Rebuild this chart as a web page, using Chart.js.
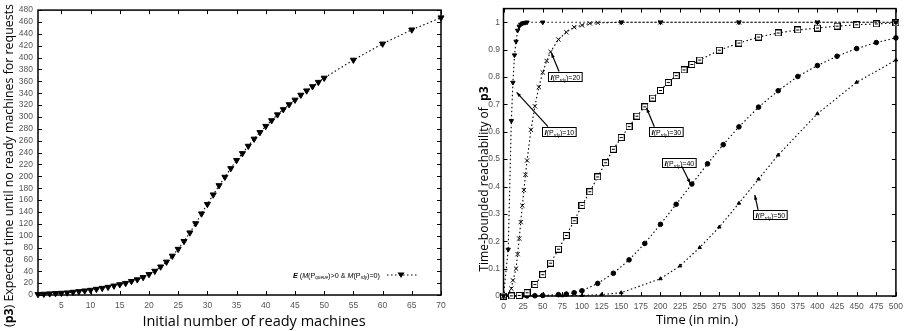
<!DOCTYPE html>
<html>
<head>
<meta charset="utf-8">
<script src="https://cdn.jsdelivr.net/npm/chart.js@4.4.0/dist/chart.umd.min.js"></script>
<style>
html, body { margin: 0; padding: 0; background: #fff; }
#wrap { position: relative; width: 909px; height: 331px; overflow: hidden; }
#leftChart { position: absolute; left: 0; top: 0; }
#rightChart { position: absolute; left: 455px; top: 0; }
</style>
</head>
<body>
<div id="wrap">
<canvas id="leftChart" width="455" height="331"></canvas>
<canvas id="rightChart" width="454" height="331"></canvas>
</div>
<script>
// left plot: expected time until no ready machines
var machines = [1,2,3,4,5,6,7,8,9,10,11,12,13,14,15,16,17,18,19,20,21,22,23,24,25,26,27,28,29,30,
  31,32,33,34,35,36,37,38,39,40,41,42,43,44,45,46,47,48,49,50,55,60,65,70];
var expectedTime = [1.2,1.7,2.3,2.8,3.3,3.9,5.0,6.1,7.2,8.3,10,11.6,13.3,15.5,17.7,19.9,23.2,26,29.8,34.8,
  40.4,47.6,55.8,65.8,77.4,90.6,105,120.5,137,153,169,184.6,198.8,213.3,227,238.6,251,263,274,284.5,
  294,303.9,312.7,321,328.7,337,344.2,351.3,358.6,365.7,396,423.2,446.9,467.3];
var leftXTicks = [5,10,15,20,25,30,35,40,45,50,55,60,65,70];
var leftYTicks = [0,20,40,60,80,100,120,140,160,180,200,220,240,260,280,300,320,340,360,380,400,420,440,460,480];

// right plot: time-bounded reachability of p3
var t10 = [0,6,10,12,14,16,18,20,22,24,26,28,30,50,150,200,300,400,500];
var p10 = [0,0.17,0.64,0.78,0.88,0.93,0.97,0.985,0.992,0.996,0.998,0.999,1,1,1,1,1,1,1];
var t20 = [0,5,10,12,16,18,20,22,24,26,28,30,35,40,45,50,55,60,70,80,90,100,110,120,150,200,300,400,500];
var p20 = [0,0.002,0.027,0.057,0.1,0.153,0.21,0.27,0.33,0.387,0.443,0.495,0.607,0.693,0.763,0.817,0.859,0.892,
  0.937,0.964,0.982,0.989,0.996,0.998,1,1,1,1,1];
var t30 = [0,10,20,30,40,50,60,70,80,90,100,110,120,130,140,150,160,170,180,190,200,210,220,230,240,250,
  275,300,325,350,375,400,425,450,475,500];
var p30 = [0,0.0005,0.002,0.012,0.042,0.078,0.12,0.171,0.221,0.275,0.331,0.381,0.435,0.487,0.536,0.579,0.619,
  0.657,0.691,0.723,0.751,0.78,0.805,0.826,0.846,0.862,0.898,0.924,0.946,0.961,0.972,0.979,0.986,0.991,0.994,0.998];
var t40 = [0,10,20,30,40,50,70,80,90,100,120,140,160,180,200,220,240,260,280,300,325,350,375,400,425,450,475,500];
var p40 = [0,0,0,0.0005,0.001,0.002,0.005,0.007,0.012,0.019,0.046,0.083,0.132,0.192,0.262,0.335,0.409,0.483,
  0.553,0.618,0.69,0.75,0.802,0.842,0.876,0.904,0.926,0.943];
var t50 = [0,25,50,75,100,125,150,200,225,250,275,300,325,350,400,450,500];
var p50 = [0,0,0.0005,0.001,0.002,0.005,0.012,0.063,0.11,0.177,0.252,0.339,0.427,0.515,0.666,0.781,0.862];
var rightXTicks = [0,25,50,75,100,125,150,175,200,225,250,275,300,325,350,375,400,425,450,475,500];
var rightYTicks = [0,0.1,0.2,0.3,0.4,0.5,0.6,0.7,0.8,0.9,1];

// label boxes: box top-left, arrow start, arrow tip (data units)
var labelNames = ['10','20','30','40','50'];
var labelBox = [[49.6,0.618],[56.7,0.82],[185.3,0.618],[202,0.505],[318,0.315]];
var labelFrom = [[56.7,0.619],[70.8,0.82],[192.2,0.618],[227,0.475],[324.4,0.315]];
var labelTip = [[16.7,0.744],[61,0.888],[182.3,0.687],[238,0.411],[320.2,0.369]];

function pairs(xs, ys) {
  return xs.map(function (x, i) { return {x: x, y: ys[i]}; });
}

function fontOf(p) {
  return (p.s || '') + ' ' + p.z + 'px ' + (p.f || '"Liberation Sans", Arial, sans-serif');
}

function richWidth(ctx, parts) {
  var w = 0;
  parts.forEach(function (p) { ctx.font = fontOf(p); w += ctx.measureText(p.t).width; });
  return w;
}

function drawRich(ctx, parts, x, y) {
  ctx.textBaseline = 'alphabetic';
  ctx.textAlign = 'left';
  parts.forEach(function (p) {
    ctx.font = fontOf(p);
    ctx.fillText(p.t, x, y + (p.d || 0));
    x += ctx.measureText(p.t).width;
  });
}

function boxMarker() {
  var c = document.createElement('canvas');
  c.width = 7; c.height = 7;
  var g = c.getContext('2d');
  g.fillStyle = '#fff';
  g.fillRect(0, 0, 7, 7);
  g.strokeStyle = '#000';
  g.lineWidth = 1;
  g.strokeRect(0.5, 0.5, 6, 6);
  g.fillStyle = '#000';
  g.fillRect(2, 3, 3, 1);
  return c;
}

// border and inward ticks on all four sides, gnuplot style
var framePlugin = {
  id: 'frame',
  beforeDatasetsDraw: function (chart) {
    var ctx = chart.ctx, a = chart.chartArea;
    var xs = chart.scales.x, ys = chart.scales.y;
    ctx.save();
    ctx.strokeStyle = '#000';
    ctx.lineWidth = 1;
    ctx.beginPath();
    xs.ticks.forEach(function (t) {
      var px = Math.round(xs.getPixelForValue(t.value)) + 0.5;
      ctx.moveTo(px, a.bottom); ctx.lineTo(px, a.bottom - 4);
      ctx.moveTo(px, a.top); ctx.lineTo(px, a.top + 4);
    });
    ys.ticks.forEach(function (t) {
      var py = Math.round(ys.getPixelForValue(t.value)) + 0.5;
      ctx.moveTo(a.left, py); ctx.lineTo(a.left + 4, py);
      ctx.moveTo(a.right, py); ctx.lineTo(a.right - 4, py);
    });
    ctx.stroke();
    ctx.lineWidth = 1.5;
    ctx.strokeRect(a.left, a.top, a.right - a.left, a.bottom - a.top);
    ctx.restore();
  }
};

var tickFont = {family: '"Liberation Sans", Arial, sans-serif', size: 8.5};
var titleFont = '"Open Sans", "Noto Sans", sans-serif';

function axisX(min, max, list, h) {
  return {
    type: 'linear', min: min, max: max,
    grid: {display: false, drawTicks: false}, border: {display: false},
    ticks: {color: '#555', font: tickFont, padding: 6, autoSkip: false, maxRotation: 0},
    afterBuildTicks: function (s) { s.ticks = list.map(function (v) { return {value: v}; }); },
    afterFit: function (s) { s.height = h; }
  };
}

function axisY(min, max, list, w, pad) {
  return {
    min: min, max: max,
    grid: {display: false, drawTicks: false}, border: {display: false},
    ticks: {color: '#555', font: tickFont, padding: pad, autoSkip: false,
      callback: function (v) { return String(+v.toFixed(1)); }},
    afterBuildTicks: function (s) { s.ticks = list.map(function (v) { return {value: v}; }); },
    afterFit: function (s) { s.width = w; }
  };
}

var leftExtras = {
  id: 'leftExtras',
  afterDraw: function (chart) {
    var ctx = chart.ctx;
    ctx.save();
    ctx.fillStyle = '#000';
    // y title
    ctx.save();
    ctx.translate(13, 327);
    ctx.rotate(-Math.PI / 2);
    drawRich(ctx, [
      {t: '(', z: 12.4, f: titleFont},
      {t: 'p3', s: 'bold', z: 12.4, f: titleFont},
      {t: ') Expected time until no ready machines for requests', z: 12.4, f: titleFont}
    ], 0, 0);
    ctx.restore();
    // x title
    var xt = [{t: 'Initial number of ready machines', z: 14.5, f: titleFont}];
    drawRich(ctx, xt, 254 - richWidth(ctx, xt) / 2, 326);
    // legend
    var leg = [
      {t: 'E', s: 'bold italic', z: 7.3},
      {t: ' (', z: 7.2},
      {t: 'M', s: 'italic', z: 7.2},
      {t: '(P', z: 7.2},
      {t: 'queue', s: 'italic', z: 4.6, d: 1.3},
      {t: ')>0 & ', z: 7.2},
      {t: 'M', s: 'italic', z: 7.2},
      {t: '(P', z: 7.2},
      {t: 'rdy', s: 'italic', z: 4.6, d: 1.3},
      {t: ')=0)', z: 7.2}
    ];
    drawRich(ctx, leg, 380 - richWidth(ctx, leg), 278);
    ctx.strokeStyle = '#000';
    ctx.lineWidth = 1.2;
    ctx.setLineDash([1.5, 2.5]);
    ctx.beginPath();
    ctx.moveTo(387, 275);
    ctx.lineTo(417, 275);
    ctx.stroke();
    ctx.setLineDash([]);
    ctx.beginPath();
    ctx.moveTo(397.5, 272.5);
    ctx.lineTo(404.5, 272.5);
    ctx.lineTo(401, 278);
    ctx.closePath();
    ctx.fill();
    ctx.restore();
  }
};

var rightExtras = {
  id: 'rightExtras',
  afterDraw: function (chart) {
    var ctx = chart.ctx, xs = chart.scales.x, ys = chart.scales.y;
    ctx.save();
    ctx.fillStyle = '#000';
    ctx.save();
    ctx.translate(33, 179);
    ctx.rotate(-Math.PI / 2);
    var yt = [
      {t: 'Time-bounded reachability of  ', z: 12, f: titleFont},
      {t: 'p3', s: 'bold', z: 12, f: titleFont}
    ];
    drawRich(ctx, yt, -richWidth(ctx, yt) / 2, 0);
    ctx.restore();
    var xt = [{t: 'Time (in min.)', z: 13, f: titleFont}];
    drawRich(ctx, xt, 242 - richWidth(ctx, xt) / 2, 324);

    labelNames.forEach(function (n, i) {
      var parts = [
        {t: 'I', s: 'bold italic', z: 8},
        {t: '(P', z: 7},
        {t: 'rdy', z: 4.5, d: 1.5},
        {t: ')=' + n, z: 7}
      ];
      var bx = Math.round(xs.getPixelForValue(labelBox[i][0])) + 0.5;
      var by = Math.round(ys.getPixelForValue(labelBox[i][1])) + 0.5;
      var w = richWidth(ctx, parts) + 4;
      ctx.fillStyle = '#fff';
      ctx.fillRect(bx, by, w, 9);
      ctx.strokeStyle = '#000';
      ctx.lineWidth = 1;
      ctx.strokeRect(bx, by, w, 9);
      ctx.fillStyle = '#000';
      drawRich(ctx, parts, bx + 2, by + 7.5);
      // arrow
      var x0 = xs.getPixelForValue(labelFrom[i][0]), y0 = ys.getPixelForValue(labelFrom[i][1]);
      var x1 = xs.getPixelForValue(labelTip[i][0]), y1 = ys.getPixelForValue(labelTip[i][1]);
      var ang = Math.atan2(y1 - y0, x1 - x0);
      ctx.lineWidth = 1.2;
      ctx.beginPath();
      ctx.moveTo(x0, y0);
      ctx.lineTo(x1, y1);
      ctx.stroke();
      ctx.beginPath();
      ctx.moveTo(x1, y1);
      ctx.lineTo(x1 - 5 * Math.cos(ang - 0.35), y1 - 5 * Math.sin(ang - 0.35));
      ctx.lineTo(x1 - 5 * Math.cos(ang + 0.35), y1 - 5 * Math.sin(ang + 0.35));
      ctx.closePath();
      ctx.fill();
    });
    ctx.restore();
  }
};

function series(data, style, radius, rotation) {
  return {
    data: data,
    borderColor: '#000',
    backgroundColor: '#000',
    borderWidth: 1.1,
    borderDash: [1.5, 2.5],
    pointStyle: style,
    pointRadius: radius,
    pointRotation: rotation || 0,
    pointBorderWidth: 1,
    pointBorderColor: '#000',
    pointBackgroundColor: '#000',
    tension: 0,
    clip: false
  };
}

new Chart(document.getElementById('leftChart'), {
  type: 'line',
  data: {
    datasets: [series(pairs(machines, expectedTime), 'triangle', 3.5, 180)]
  },
  options: {
    responsive: false,
    animation: false,
    layout: {padding: {left: 0, right: 14, top: 5, bottom: 0}},
    plugins: {legend: {display: false}, tooltip: {enabled: false}},
    scales: {
      x: axisX(1, 70, leftXTicks, 36),
      y: axisY(0, 480, leftYTicks, 38, 5)
    }
  },
  plugins: [framePlugin, leftExtras]
});

new Chart(document.getElementById('rightChart'), {
  type: 'line',
  data: {
    datasets: [
      series(pairs(t10, p10), 'triangle', 2.5, 180),
      series(pairs(t20, p20), 'crossRot', 3),
      series(pairs(t30, p30), boxMarker(), 3.5),
      series(pairs(t40, p40), 'circle', 2.3),
      series(pairs(t50, p50), 'triangle', 2)
    ]
  },
  options: {
    responsive: false,
    animation: false,
    layout: {padding: {left: 0, right: 9, top: 4, bottom: 0}},
    plugins: {legend: {display: false}, tooltip: {enabled: false}},
    scales: {
      x: axisX(0, 500, rightXTicks, 35),
      y: axisY(0, 1.05, rightYTicks, 48.5, 3.5)
    }
  },
  plugins: [framePlugin, rightExtras]
});
</script>
</body>
</html>
